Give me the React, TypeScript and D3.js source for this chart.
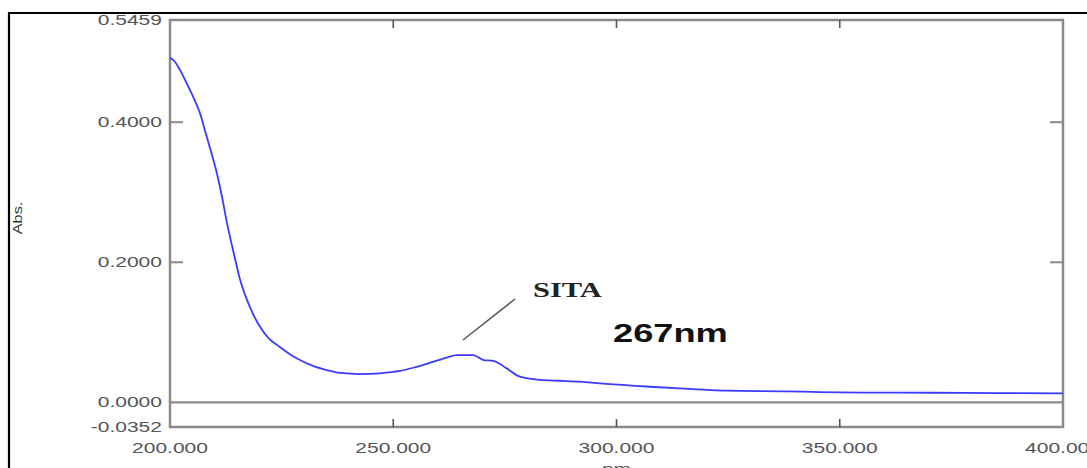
import React from "react";
import * as d3 from "d3";

const wavelengths = [200, 201, 202.2, 204, 205.2, 206.7, 207.8, 209, 210.5, 211.6, 212.7, 214.2, 215.7, 217.9, 220.2, 222, 224.6, 227, 229.1, 232, 235.1, 238, 242.6, 247, 251.5, 254.5, 258, 262, 264.2, 267.9, 270.2, 272.4, 275.4, 278.4, 282.9, 287.3, 291.8, 296.3, 307.5, 317.1, 324.7, 338.1, 345.6, 355, 370.9, 385, 400];
const absorbance = [0.492, 0.487, 0.475, 0.452, 0.436, 0.413, 0.389, 0.362, 0.327, 0.295, 0.258, 0.215, 0.175, 0.136, 0.1075, 0.092, 0.079, 0.068, 0.0604, 0.052, 0.0461, 0.042, 0.0404, 0.0415, 0.0448, 0.0494, 0.056, 0.064, 0.0675, 0.0675, 0.0604, 0.0593, 0.0485, 0.0366, 0.032, 0.0308, 0.0295, 0.0271, 0.0223, 0.019, 0.0166, 0.0157, 0.0147, 0.014, 0.0137, 0.0132, 0.0129];

const xTicks = [200, 250, 300, 350, 400];
const yTicks = [0.5459, 0.4, 0.2, 0, -0.0352];
const yInnerTicks = [0.4, 0.2];
const xInnerTicks = [250, 300, 350];

const SX = 1.45;

function SText({ x, y, children, size, anchor = "start", weight = "normal", family = "'Liberation Sans', Arial, sans-serif", fill = "#555" }: any) {
  return (
    <g transform={`translate(${x},${y}) scale(${SX},1)`}>
      <text x={0} y={0} fontSize={size} textAnchor={anchor} fontWeight={weight} fontFamily={family} fill={fill}>
        {children}
      </text>
    </g>
  );
}

export default function App() {
  const W = 1087, H = 468;
  const x = d3.scaleLinear().domain([200, 400]).range([170, 1063]);
  const y = d3.scaleLinear().domain([-0.0352, 0.5459]).range([427, 20]);
  const pts: [number, number][] = wavelengths.map((w, i) => [w, absorbance[i]]);
  const line = d3.line<[number, number]>().x(d => x(d[0])).y(d => y(d[1])).curve(d3.curveMonotoneX);
  const frame = "#8a8a8a";
  const tickC = "#555";
  return (
    <svg width={W} height={H} style={{ position: "absolute", left: 0, top: 0, background: "#fff" }}>
      <rect x={0} y={0} width={W} height={H} fill="#fff" />
      <line x1={9} y1={13} x2={W} y2={13} stroke="#000" strokeWidth={2.2} />
      <line x1={9} y1={12} x2={9} y2={H} stroke="#000" strokeWidth={2.2} />
      <rect x={x(200)} y={y(0.5459)} width={x(400) - x(200)} height={y(-0.0352) - y(0.5459)} fill="none" stroke={frame} strokeWidth={2.5} />
      <line x1={x(200)} x2={x(400)} y1={y(0)} y2={y(0)} stroke={frame} strokeWidth={2.2} />
      {yInnerTicks.map(v => (
        <g key={v}>
          <line x1={x(200)} x2={x(200) + 13} y1={y(v)} y2={y(v)} stroke={frame} strokeWidth={2} />
          <line x1={x(400) - 13} x2={x(400)} y1={y(v)} y2={y(v)} stroke={frame} strokeWidth={2} />
        </g>
      ))}
      {xInnerTicks.map(v => (
        <g key={v}>
          <line x1={x(v)} x2={x(v)} y1={y(0.5459)} y2={y(0.5459) + 8} stroke={tickC} strokeWidth={1.6} />
          <line x1={x(v)} x2={x(v)} y1={y(-0.0352)} y2={y(-0.0352) - 8} stroke={tickC} strokeWidth={1.6} />
        </g>
      ))}
      {yTicks.map(v => (
        <SText key={v} x={162} y={y(v) + 5} size={14.5} anchor="end">{v.toFixed(4)}</SText>
      ))}
      {xTicks.map(v => (
        <SText key={v} x={x(v)} y={453} size={14.5} anchor="middle">{v.toFixed(3)}</SText>
      ))}
      <SText x={x(300)} y={474} size={14.5} anchor="middle">nm</SText>
      <g transform="translate(22,218) rotate(-90) scale(1.36,1)">
        <text x={0} y={0} fontSize={12} textAnchor="middle" fontFamily="'Liberation Sans', Arial, sans-serif" fill="#333">Abs.</text>
      </g>
      <path d={line(pts) || ""} fill="none" stroke="#3b3bff" strokeWidth={1.8} />
      <line x1={463} y1={340} x2={515} y2={299} stroke="#555" strokeWidth={1.5} />
      <SText x={533} y={297} size={21} weight="bold" family="'Liberation Serif', 'Times New Roman', serif" fill="#222">SITA</SText>
      <SText x={613} y={342} size={25} weight="bold" fill="#111">267nm</SText>
    </svg>
  );
}
